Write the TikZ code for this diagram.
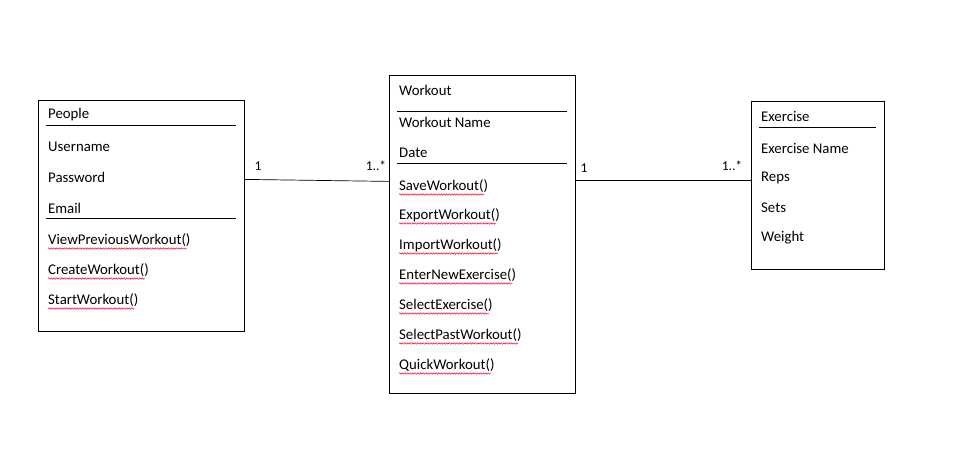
\documentclass[tikz,border=0pt]{standalone}
\usepackage{fontspec}
\setmainfont{Carlito}
\usetikzlibrary{decorations.pathmorphing}
\begin{document}
\begin{tikzpicture}[x=1pt,y=-1pt,
  cls/.style={draw,line width=0.8pt,inner sep=0pt,anchor=north west},
  sep/.style={line width=0.8pt},
  txt/.style={anchor=west,inner sep=0pt,yshift=-1pt,font=\fontsize{14.8}{17}\selectfont},
  mult/.style={inner sep=0pt,font=\fontsize{13.5}{15}\selectfont},
  conn/.style={line width=0.7pt},
  squig/.style={draw=red!80!magenta,line width=0.5pt,decorate,decoration={snake,amplitude=0.7pt,segment length=2.6pt}}]
\useasboundingbox[fill=white] (0,0) rectangle (954,466);
% boxes
\node[cls,minimum width=206pt,minimum height=231pt] (people) at (38,100) {};
\node[cls,minimum width=186pt,minimum height=318pt] (workout) at (389,75) {};
\node[cls,minimum width=133pt,minimum height=168pt] (exercise) at (751,101) {};
% separators
\draw[sep] (46,125) -- (236,125);
\draw[sep] (46,218) -- (236,218);
\draw[sep] (397,111) -- (567,111);
\draw[sep] (397,163) -- (567,163);
\draw[sep] (759,127) -- (876,127);
% People texts
\node[txt] (p0) at (48,114) {People};
\node[txt] (p1) at (48,146) {Username};
\node[txt] (p2) at (48,176) {Password};
\node[txt] (p3) at (48,207) {Email};
\node[txt] (p4) at (48,239) {ViewPreviousWorkout()};
\node[txt] (p5) at (48,269) {CreateWorkout()};
\node[txt] (p6) at (48,299) {StartWorkout()};
% Workout texts
\node[txt] (w0) at (399,89) {Workout};
\node[txt] (w1) at (399,121) {Workout Name};
\node[txt] (w2) at (399,152) {Date};
\node[txt] (w3) at (399,185) {SaveWorkout()};
\node[txt] (w4) at (399,214) {ExportWorkout()};
\node[txt] (w5) at (399,244) {ImportWorkout()};
\node[txt] (w6) at (399,274) {EnterNewExercise()};
\node[txt] (w7) at (399,304) {SelectExercise()};
\node[txt] (w8) at (399,334) {SelectPastWorkout()};
\node[txt] (w9) at (399,364) {QuickWorkout()};
% Exercise texts
\node[txt] (e0) at (761,115) {Exercise};
\node[txt] (e1) at (761,147) {Exercise Name};
\node[txt] (e2) at (761,177) {Reps};
\node[txt] (e3) at (761,207) {Sets};
\node[txt] (e4) at (761,237) {Weight};
% spell-check squiggles
\foreach \n in {p4,p5,p6,w3,w4,w5,w6,w7,w8,w9}{
  \draw[squig] ([yshift=-8.5pt]\n.west) -- ([xshift=-4pt,yshift=-8.5pt]\n.east);
}
% connectors
\draw[conn] ([yshift=36.5pt]people.east) -- ([yshift=53pt]workout.west);
\draw[conn] ([yshift=54pt]workout.east) -- ([yshift=5pt]exercise.west);
% multiplicities
\node[mult] (m1) at (258,166) {1};
\node[mult] (m2) at (376,166) {1..*};
\node[mult] (m3) at (584,168) {1};
\node[mult] (m4) at (732,166) {1..*};
\end{tikzpicture}
\end{document}
